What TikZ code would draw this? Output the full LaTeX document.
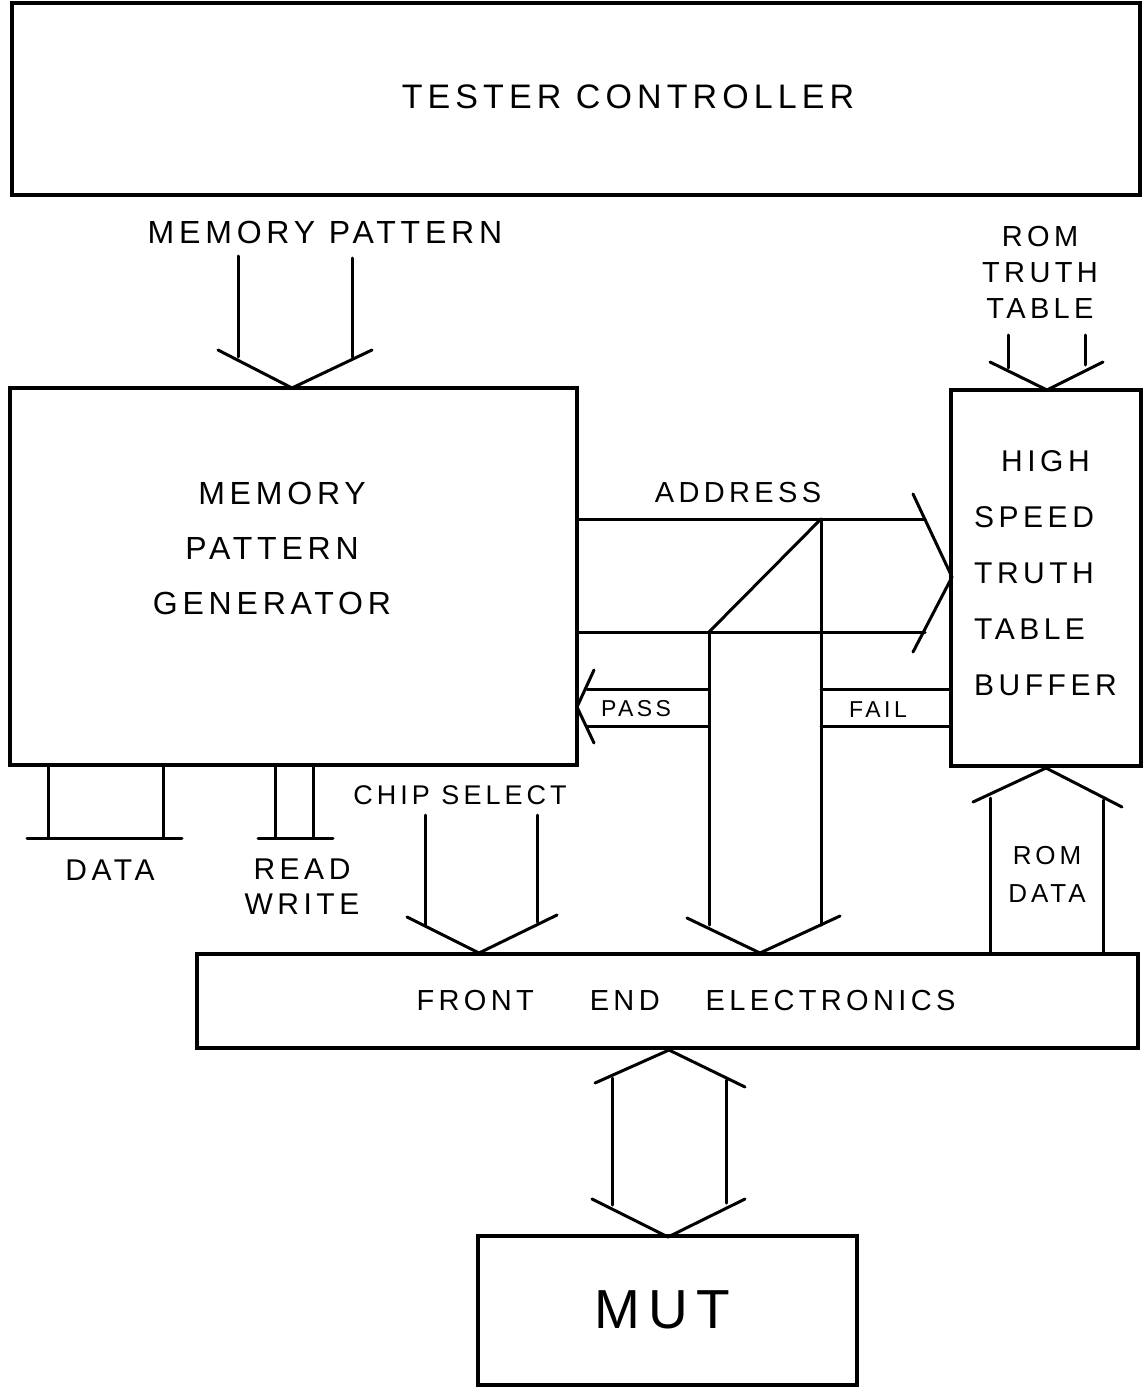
\documentclass[tikz,border=0pt]{standalone}
\usepackage{fontspec}
\newfontfamily\hand[LetterSpace=15]{Liberation Sans}
\newcommand{\fs}[2]{\fontsize{#1}{#2}\selectfont}
\begin{document}
\begin{tikzpicture}[x=1pt,y=-1pt,
  box/.style={draw,line width=3.5pt,inner sep=0pt},
  bus/.style={line width=3pt,line cap=round,line join=round},
  lbl/.style={inner sep=0pt,align=center}]
\useasboundingbox[fill=white] (0,0) rectangle (1144,1388);

% boxes
\node[box,minimum width=1128pt,minimum height=192pt] (tc) at (576,99) {};
\node[box,minimum width=567pt,minimum height=377pt] (mpg) at (293.5,576.5) {};
\node[box,minimum width=190pt,minimum height=376pt] (hs) at (1046,578) {};
\node[box,minimum width=941pt,minimum height=94pt] (fee) at (667.5,1001) {};
\node[box,minimum width=379pt,minimum height=149pt] (mut) at (667.5,1310.5) {};

% box texts
\node[lbl,font=\hand\fs{34}{40}] (tct) at (628,97) {TESTER CONTROLLER};
\node[lbl,font=\hand\fs{32}{55}] (mpgt) at (272,548) {\hspace{20pt}MEMORY\\PATTERN\\GENERATOR};
\node[lbl,align=left,anchor=west,font=\hand\fs{30}{56}] (hst) at (974,573) {\hspace{27pt}HIGH\\SPEED\\TRUTH\\TABLE\\BUFFER};
\node[lbl,font=\hand\fs{29}{30}] (feet) at (686,1001) {FRONT\hspace{56pt}END\hspace{46pt}ELECTRONICS};
\node[lbl,font=\hand\fs{55}{60}] (mutt) at (662,1310) {MUT};

% labels
\node[lbl,font=\hand\fs{32}{36}] (mpl) at (325,232) {MEMORY PATTERN};
\node[lbl,font=\hand\fs{29}{36}] (rtt) at (1040,272) {ROM\\TRUTH\\TABLE};
\node[lbl,font=\hand\fs{29}{36}] (addr) at (738,493) {ADDRESS};
\node[lbl,font=\hand\fs{23}{26}] (pass) at (636,709) {PASS};
\node[lbl,font=\hand\fs{23}{26}] (fail) at (878,710) {FAIL};
\node[lbl,font=\hand\fs{27}{30}] (cs) at (460,795) {CHIP SELECT};
\node[lbl,font=\hand\fs{30}{34}] (data) at (110,870) {DATA};
\node[lbl,font=\hand\fs{30}{35}] (rw) at (302,887) {READ\\WRITE};
\node[lbl,font=\hand\fs{26}{38}] (romd) at (1047,874) {ROM\\DATA};

% memory pattern into generator
\draw[bus] (238,256) -- (238,357);
\draw[bus] (352,258) -- (352,357);
\draw[bus] (218,350) -- (292,388) -- (372,350);

% rom truth table into buffer
\draw[bus] (1008,335) -- (1008,368);
\draw[bus] (1085,335) -- (1085,365);
\draw[bus] (990,362) -- (1047,390) -- (1103,362);

% address bus
\draw[bus] (577,519) -- (925,519);
\draw[bus] (577,632) -- (925,632);
\draw[bus] (913,494) -- (952,577) -- (913,652);
\draw[bus] (821,519) -- (709,632);
\draw[bus] (821,519) -- (821,925);
\draw[bus] (709,632) -- (709,925);
\draw[bus] (687,918) -- (760,953) -- (840,916);

% pass / fail
\draw[bus] (587,689) -- (709,689);
\draw[bus] (587,726) -- (709,726);
\draw[bus] (594,670) -- (577,707) -- (594,743);
\draw[bus] (821,689) -- (951,689);
\draw[bus] (821,726) -- (951,726);

% chip select
\draw[bus] (425,815) -- (425,925);
\draw[bus] (537,815) -- (537,922);
\draw[bus] (407,917) -- (479,953) -- (557,915);

% data, read/write
\draw[bus] (48,765) -- (48,838);
\draw[bus] (163,765) -- (163,838);
\draw[bus] (27,838) -- (182,838);
\draw[bus] (275,765) -- (275,838);
\draw[bus] (313,765) -- (313,838);
\draw[bus] (258,838) -- (333,838);

% rom data
\draw[bus] (990,798) -- (990,954);
\draw[bus] (1103,800) -- (1103,954);
\draw[bus] (973,802) -- (1046,768) -- (1122,807);

% front end <-> MUT
\draw[bus] (612,1078) -- (612,1205);
\draw[bus] (726,1080) -- (726,1203);
\draw[bus] (595,1083) -- (669,1050) -- (745,1087);
\draw[bus] (592,1199) -- (668,1237) -- (745,1199);
\end{tikzpicture}
\end{document}
